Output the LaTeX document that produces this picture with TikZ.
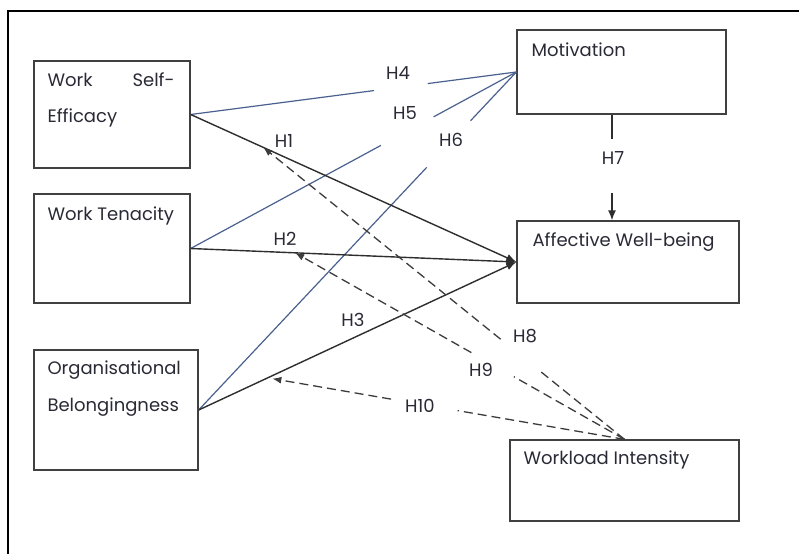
\documentclass[tikz,border=0pt]{standalone}
\usepackage{fontspec}
\setmainfont{Poppins}
\usetikzlibrary{arrows.meta,calc}
\definecolor{bline}{HTML}{4A6190}
\definecolor{kline}{HTML}{2E2E2E}
\definecolor{dline}{HTML}{3C3C3C}
\definecolor{boxc}{HTML}{404040}
\definecolor{txtc}{HTML}{2A2A36}
\tikzset{
  box/.style={draw=boxc, line width=1.3pt, inner sep=0pt},
  txt/.style={anchor=base west, inner sep=0pt, align=left, text=txtc},
  hlab/.style={inner sep=0pt, text=txtc},
  bl/.style={draw=bline, line width=1.2pt},
  sl/.style={draw=kline, line width=1.4pt, -{Latex[length=10pt,width=8pt]}},
  ds/.style={draw=dline, line width=1.3pt, dash pattern=on 9pt off 5pt},
  dsa/.style={ds, -{Latex[length=9pt,width=7pt]}},
}
\begin{document}
\begin{tikzpicture}[x=1pt, y=-1pt, font=\fontsize{18}{36.5}\selectfont]
\useasboundingbox (0,0) rectangle (799,554);
\fill[white] (0,0) rectangle (799,554);
\draw[line width=2.7pt, line join=miter] (799,11) -- (8,11) -- (8,554);

% boxes
\node[box, minimum width=156pt, minimum height=107pt] (wse) at (112,114.5) {};
\node[box, minimum width=156pt, minimum height=109pt] (wt) at (112,248.5) {};
\node[box, minimum width=164pt, minimum height=120pt] (ob) at (116,410) {};
\node[box, minimum width=209pt, minimum height=84pt] (mot) at (621.5,72) {};
\node[box, minimum width=222pt, minimum height=82pt] (awb) at (628,262) {};
\node[box, minimum width=229pt, minimum height=81pt] (wi) at (624.5,480.5) {};

% box texts (multi-line nodes: base = last line)
\node[txt] (twse) at ($(wse.north west)+(14,62.5)$) {\makebox[127pt][s]{Work Self-}\\Efficacy};
\node[txt] (twt) at ($(wt.north west)+(14,27)$) {Work Tenacity};
\node[txt] (tob) at ($(ob.north west)+(14,62)$) {Organisational\\Belongingness};
\node[txt] (tmot) at ($(mot.north west)+(15,27)$) {Motivation};
\node[txt] (tawb) at ($(awb.north west)+(16,26)$) {Affective Well-being};
\node[txt] (twi) at ($(wi.north west)+(14,25)$) {Workload Intensity};

% blue lines to Motivation
\draw[bl] (wse.east) -- ($(wse.east)!0.563!(mot.west)$);
\draw[bl] ($(wse.east)!0.728!(mot.west)$) -- (mot.west);
\draw[bl] (wt.east) -- ($(wt.east)!0.584!(mot.west)$);
\draw[bl] ($(wt.east)!0.746!(mot.west)$) -- (mot.west);
\draw[bl] (ob.east) -- ($(ob.east)!0.718!(mot.west)$);
\draw[bl] ($(ob.east)!0.856!(mot.west)$) -- (mot.west);

% solid arrows to Affective Well-being
\draw[sl] (wse.east) -- (awb.west);
\draw[sl] (wt.east) -- (awb.west);
\draw[sl] (ob.east) -- (awb.west);

% H7
\coordinate (m7) at ($(mot.south)+(-9.5,0)$);
\coordinate (a7) at (m7 |- awb.north);
\draw[draw=kline, line width=1.3pt] (m7) -- ($(m7)!0.234!(a7)$);
\draw[sl] ($(m7)!0.738!(a7)$) -- (a7);

% dashed moderation arrows
\coordinate (t8) at ($(wse.east)!0.223!(awb.west)$);
\coordinate (t9) at ($(wt.east)!0.321!(awb.west)$);
\coordinate (t10) at ($(ob.east)!0.232!(awb.west)+(0,3)$);
\draw[ds] (wi.north) -- ($(wi.north)!0.237!(t8)$);
\draw[dsa] ($(wi.north)!0.343!(t8)$) -- (t8);
\draw[ds] (wi.north) -- ($(wi.north)!0.336!(t9)$);
\draw[dsa] ($(wi.north)!0.465!(t9)$) -- (t9);
\draw[ds] (wi.north) -- ($(wi.north)!0.474!(t10)$);
\draw[dsa] ($(wi.north)!0.663!(t10)$) -- (t10);

% labels
\node[hlab] (h1) at (284,141) {H1};
\node[hlab] (h2) at (285,239) {H2};
\node[hlab] (h3) at (353,320) {H3};
\node[hlab] (h4) at (398,73) {H4};
\node[hlab] (h5) at (405,113) {H5};
\node[hlab] (h6) at (451,140) {H6};
\node[hlab] (h7) at (613,158) {H7};
\node[hlab] (h8) at (525,336) {H8};
\node[hlab] (h9) at (481,370) {H9};
\node[hlab] (h10) at (420,406) {H10};
\end{tikzpicture}
\end{document}
